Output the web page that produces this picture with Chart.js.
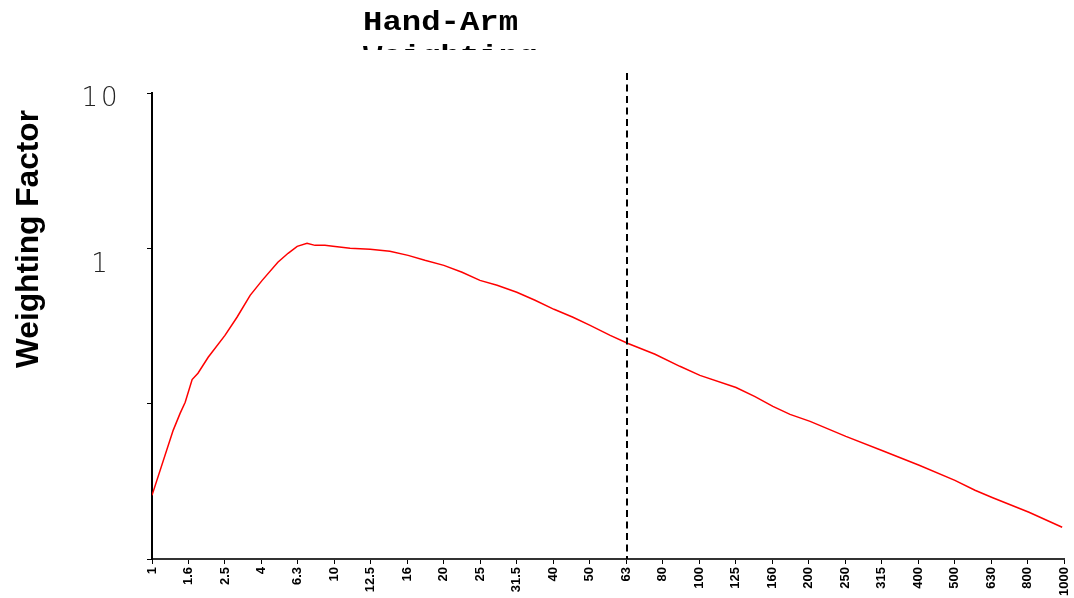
<!DOCTYPE html>
<html>
<head>
<meta charset="utf-8">
<script src="https://cdn.jsdelivr.net/npm/chart.js@4.4.1/dist/chart.umd.min.js"></script>
<style>
  html, body { margin: 0; padding: 0; background: #fff; }
  #wrap { width: 1074px; height: 598px; position: relative; }
</style>
</head>
<body>
<div id="wrap"><canvas id="chart"></canvas></div>
<script>
// ---- data ----
const freqLabels = ["1", "1.6", "2.5", "4", "6.3", "10", "12.5", "16", "20", "25", "31.5",
  "40", "50", "63", "80", "100", "125", "160", "200", "250", "315", "400", "500",
  "630", "800", "1000"];

// curve position in label-index units, and weighting factor
const curveX = [0, 0.58, 0.77, 0.91, 1.10, 1.26, 1.54, 2.00, 2.33, 2.69, 3.02, 3.45,
  3.73, 3.98, 4.25, 4.47, 4.74, 4.96, 5.43, 5.98, 6.52, 7.02, 7.48, 8.00, 8.50,
  8.99, 9.46, 10.0, 10.5, 11.02, 11.54, 12.01, 12.56, 13.05, 13.79, 14.47, 15.02,
  16.01, 16.53, 17.02, 17.49, 18.04, 19.02, 20.01, 21.03, 22.01, 22.56, 23.03,
  24.04, 24.95];
const curveY = [0.0257, 0.0673, 0.0866, 0.102, 0.143, 0.157, 0.199, 0.275, 0.360,
  0.498, 0.622, 0.813, 0.929, 1.030, 1.077, 1.045, 1.045, 1.030, 1.0, 0.985, 0.957,
  0.901, 0.837, 0.777, 0.701, 0.622, 0.578, 0.521, 0.463, 0.405, 0.360, 0.319,
  0.275, 0.244, 0.208, 0.174, 0.152, 0.127, 0.111, 0.0961, 0.0853, 0.0769, 0.0616,
  0.0500, 0.0401, 0.0321, 0.0277, 0.0249, 0.0200, 0.0160];

const yTicks = [10, 1, 0.1, 0.01];
const yTickText = ["10", "1", "", ""];
const markerIndex = 13; // 63 Hz dashed marker

const titleLines = ["Hand-Arm", "Weighting"];
const yTitle = "Weighting Factor";

// ---- custom drawing ----
const decorations = {
  id: "decorations",
  afterDraw(chart) {
    const ctx = chart.ctx;
    const xs = chart.scales.x;
    const ys = chart.scales.y;
    const area = chart.chartArea;

    // dashed marker line
    const mx = Math.round(xs.getPixelForValue(markerIndex)) + 1;
    ctx.save();
    ctx.strokeStyle = "#000";
    ctx.lineWidth = 2;
    ctx.setLineDash([7, 4.5]);
    ctx.beginPath();
    ctx.moveTo(mx, area.top - 20);
    ctx.lineTo(mx, area.bottom);
    ctx.stroke();
    ctx.restore();

    // y tick labels
    const offsets = [6, 17, 0, 0];
    ctx.save();
    ctx.fillStyle = "#222";
    ctx.font = '200 26px "DejaVu Sans"';
    ctx.letterSpacing = "3px";
    ctx.textAlign = "center";
    ctx.textBaseline = "middle";
    yTicks.forEach((v, i) => {
      if (!yTickText[i]) return;
      ctx.fillText(yTickText[i], 101, ys.getPixelForValue(v) + offsets[i]);
    });
    ctx.restore();

    // y axis title
    ctx.save();
    ctx.translate(29, 239);
    ctx.rotate(-Math.PI / 2);
    ctx.fillStyle = "#000";
    ctx.font = 'bold 31px "Liberation Sans"';
    ctx.textAlign = "center";
    ctx.textBaseline = "middle";
    const tw = ctx.measureText(yTitle).width;
    ctx.scale(258 / tw, 1);
    ctx.fillText(yTitle, 0, 0);
    ctx.restore();

    // title, clipped like the original
    ctx.save();
    ctx.beginPath();
    ctx.rect(0, 0, chart.width, 50);
    ctx.clip();
    ctx.fillStyle = "#000";
    ctx.font = 'bold 28px "Liberation Mono"';
    ctx.textBaseline = "alphabetic";
    const w = ctx.measureText(titleLines[0]).width;
    ctx.translate(363, 0);
    ctx.scale(155 / w, 1);
    ctx.fillText(titleLines[0], 0, 30);
    ctx.fillText(titleLines[1], 0, 64);
    ctx.restore();
  },
};

// ---- chart ----
new Chart(document.getElementById("chart"), {
  type: "line",
  data: {
    datasets: [
      {
        data: curveX.map((x, i) => ({ x, y: curveY[i] })),
        borderColor: "#ff0000",
        borderWidth: 1.5,
        pointRadius: 0,
        fill: false,
        tension: 0,
      },
    ],
  },
  options: {
    responsive: true,
    maintainAspectRatio: false,
    animation: false,
    devicePixelRatio: 1,
    layout: { padding: { top: 93, right: 10, left: 0, bottom: 0 } },
    plugins: { legend: { display: false }, tooltip: { enabled: false } },
    scales: {
      x: {
        type: "linear",
        min: 0,
        max: freqLabels.length - 1,
        afterBuildTicks: (s) => { s.ticks = freqLabels.map((_, i) => ({ value: i })); },
        afterFit: (s) => { s.height = 39; s.paddingLeft = 0; s.paddingRight = 0; },
        ticks: {
          autoSkip: false,
          maxRotation: 90,
          minRotation: 90,
          padding: 3,
          color: "#000",
          font: { family: "Liberation Sans", size: 13, weight: "bold" },
          callback: (v) => freqLabels[v],
        },
        grid: { drawOnChartArea: false, tickLength: 5, color: "#000" },
        border: { color: "#333", width: 2 },
      },
      y: {
        type: "logarithmic",
        min: 0.01,
        max: 10,
        afterBuildTicks: (s) => { s.ticks = yTicks.map((v) => ({ value: v })); },
        afterFit: (s) => { s.width = 152; s.paddingTop = 0; s.paddingBottom = 0; },
        ticks: { display: false },
        grid: { drawOnChartArea: false, tickLength: 5, color: "#000" },
        border: { color: "#000", width: 2 },
      },
    },
  },
  plugins: [decorations],
});
</script>
</body>
</html>
